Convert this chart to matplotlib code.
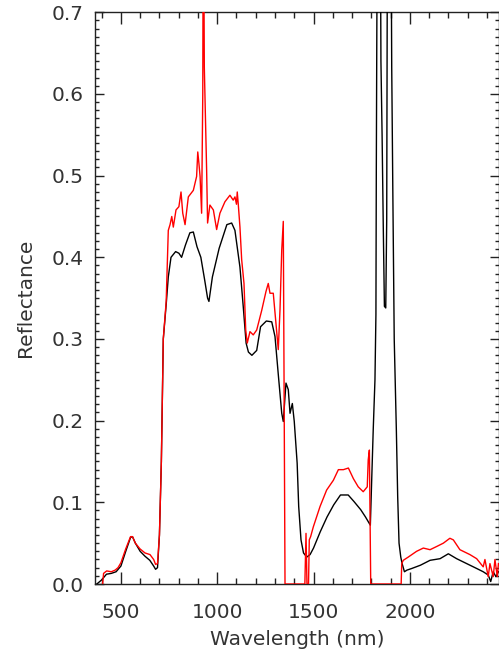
import numpy as np
import matplotlib
matplotlib.use('Agg')
from matplotlib import pyplot as plt
from matplotlib.ticker import MultipleLocator

# black spectrum (wavelength nm, reflectance)
wl_black = [375, 400, 425, 450, 475, 500, 525, 550, 560, 575, 600, 625, 650, 670, 680,
            690, 700, 710, 720, 735, 746, 760, 784, 801, 815, 835, 858, 876, 895, 915,
            935, 950, 957, 975, 1010, 1050, 1075, 1092, 1118, 1135, 1150, 1162, 1180, 1205,
            1225, 1255, 1283, 1300, 1318, 1335, 1343, 1357, 1369, 1378, 1390, 1400, 1415,
            1423, 1435, 1448, 1465, 1482, 1500, 1535, 1570, 1605, 1640, 1680, 1710, 1745,
            1770, 1795, 1802, 1810, 1819, 1824, 1826, 1833, 1845, 1850, 1856, 1862, 1868,
            1875, 1880, 1885, 1900, 1906, 1912, 1919, 1930, 1937, 1944, 1953, 1960, 1972,
            1985, 2010, 2055, 2105, 2157, 2200, 2243, 2295, 2347, 2381, 2407, 2420, 2433,
            2447, 2460]
r_black = [0.0, 0.005, 0.012, 0.013, 0.015, 0.022, 0.040, 0.057, 0.058, 0.050, 0.040, 0.034,
           0.029, 0.022, 0.018, 0.020, 0.060, 0.150, 0.300, 0.342, 0.376, 0.400, 0.407, 0.405,
           0.400, 0.415, 0.430, 0.431, 0.413, 0.400, 0.372, 0.350, 0.346, 0.376, 0.411, 0.440,
           0.442, 0.433, 0.388, 0.340, 0.295, 0.284, 0.280, 0.286, 0.315, 0.322, 0.321, 0.303,
           0.254, 0.209, 0.199, 0.246, 0.238, 0.209, 0.221, 0.199, 0.148, 0.095, 0.054, 0.038,
           0.033, 0.036, 0.044, 0.064, 0.082, 0.097, 0.109, 0.109, 0.101, 0.091, 0.082, 0.072,
           0.127, 0.189, 0.250, 0.330, 0.507, 0.950, 0.950, 0.640, 0.550, 0.440, 0.340, 0.338,
           0.446, 0.950, 0.950, 0.633, 0.474, 0.300, 0.189, 0.107, 0.050, 0.033, 0.025, 0.015,
           0.017, 0.019, 0.023, 0.029, 0.031, 0.037, 0.031, 0.025, 0.019, 0.015, 0.011, 0.003,
           0.015, 0.009, 0.015]

# red spectrum
wl_red = [405, 410, 426, 450, 470, 485, 500, 525, 550, 560, 575, 599, 625, 651, 670, 680,
          690, 700, 710, 720, 735, 746, 755, 764, 772, 786, 801, 812, 821, 833, 850, 876,
          893, 899, 905, 911, 919, 925, 928, 933, 938, 945, 950, 962, 980, 997, 1014, 1040,
          1066, 1083, 1092, 1100, 1104, 1109, 1118, 1127, 1139, 1148, 1156, 1170, 1187, 1205,
          1231, 1253, 1265, 1274, 1291, 1305, 1317, 1326, 1335, 1343, 1348, 1352, 1455, 1461,
          1466, 1474, 1478, 1485, 1499, 1534, 1568, 1603, 1629, 1655, 1681, 1707, 1732, 1758,
          1779, 1784, 1790, 1797, 1955, 1958, 1966, 1992, 2035, 2070, 2105, 2140, 2174, 2208,
          2226, 2260, 2312, 2347, 2381, 2390, 2407, 2416, 2433, 2442, 2454, 2460]
r_red = [0.0, 0.013, 0.016, 0.015, 0.017, 0.020, 0.026, 0.043, 0.058, 0.058, 0.050, 0.043,
         0.038, 0.036, 0.030, 0.024, 0.025, 0.060, 0.150, 0.300, 0.346, 0.433, 0.440, 0.450,
         0.437, 0.458, 0.462, 0.480, 0.454, 0.440, 0.474, 0.482, 0.499, 0.529, 0.515, 0.499,
         0.454, 0.600, 0.900, 0.633, 0.580, 0.507, 0.442, 0.464, 0.458, 0.434, 0.454, 0.468,
         0.476, 0.470, 0.474, 0.465, 0.480, 0.466, 0.437, 0.397, 0.368, 0.311, 0.295, 0.309,
         0.305, 0.311, 0.335, 0.358, 0.368, 0.356, 0.356, 0.319, 0.287, 0.336, 0.409, 0.444,
         0.200, 0.0, 0.0, 0.062, 0.0, 0.0, 0.054, 0.058, 0.070, 0.095, 0.115, 0.127, 0.140,
         0.140, 0.142, 0.129, 0.119, 0.113, 0.119, 0.152, 0.164, 0.0, 0.0, 0.025, 0.029,
         0.033, 0.040, 0.044, 0.042, 0.046, 0.050, 0.056, 0.054, 0.042, 0.036, 0.031, 0.021,
         0.030, 0.009, 0.025, 0.009, 0.030, 0.009, 0.025]

plt.rcParams['font.family'] = 'DejaVu Sans'
txt = '#333333'

fig = plt.figure(figsize=(4.99, 6.58), dpi=100)
ax = fig.add_axes([95.3/499, 74/658, (499-95.3)/499, 571.7/658])

ax.plot(wl_black, r_black, color='black', lw=1.0, zorder=3)
ax.plot(wl_red, r_red, color='red', lw=1.0, zorder=4)

ax.set_xlim(367, 2463)
ax.set_ylim(0, 0.7)

ax.xaxis.set_major_locator(MultipleLocator(500))
ax.xaxis.set_minor_locator(MultipleLocator(100))
ax.yaxis.set_major_locator(MultipleLocator(0.1))
ax.yaxis.set_minor_locator(MultipleLocator(0.01))
ax.yaxis.set_major_formatter(plt.FuncFormatter(lambda v, p: '%.1f' % v))

ax.tick_params(axis='x', which='both', direction='in', top=True, bottom=True,
               colors='#222222', labelcolor=txt, labelsize=14.5, pad=13.5)
ax.tick_params(axis='x', which='major', length=8.3, width=1.0)
ax.tick_params(axis='x', which='minor', length=4.5, width=1.0)
ax.tick_params(axis='y', which='both', direction='in', left=True, right=True,
               colors='#222222', labelcolor=txt, labelsize=14.5, pad=8.5)
ax.tick_params(axis='y', which='major', length=6.2, width=1.0)
ax.tick_params(axis='y', which='minor', length=3.1, width=1.0)

for s in ax.spines.values():
    s.set_color('#222222')
    s.set_linewidth(1.0)

ax.set_xlabel('Wavelength (nm)', fontsize=14.5, color=txt, labelpad=6)
ax.set_ylabel('Reflectance', fontsize=14.5, color=txt, labelpad=12)

fig.savefig('out.png', dpi=100)
